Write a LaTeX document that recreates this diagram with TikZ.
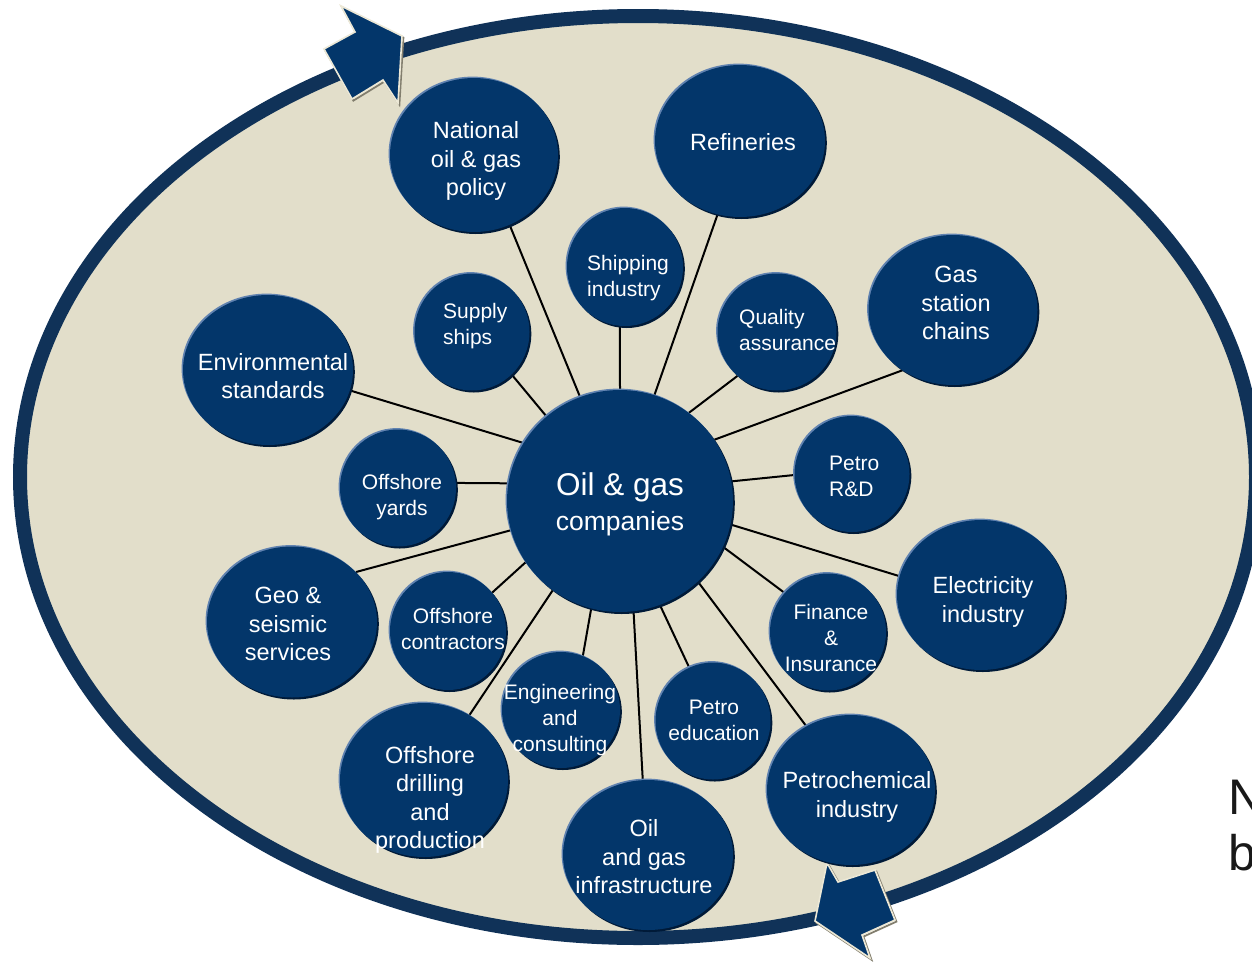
\documentclass[tikz,border=0pt]{standalone}
\usepackage{fontspec}
\setmainfont{Liberation Sans}
\usetikzlibrary{shapes.geometric}
\pgfdeclarelayer{bg}
\pgfsetlayers{bg,main}
\definecolor{navy}{RGB}{3,54,106}
\definecolor{rimdark}{RGB}{0,26,56}
\definecolor{rimlight}{RGB}{96,130,176}
\definecolor{ringcol}{RGB}{16,50,88}
\definecolor{beige}{RGB}{226,222,202}
\definecolor{arrowedge}{RGB}{236,232,214}
\definecolor{arrowshadow}{RGB}{130,126,110}
\tikzset{
  bubble/.style={ellipse, inner sep=0pt, fill=navy,
    preaction={fill=rimdark, transform canvas={xshift=1.8pt,yshift=-2pt}},
    preaction={fill=rimlight, transform canvas={xshift=-1.4pt,yshift=1.4pt}}},
  conn/.style={draw=black, line width=2pt},
  lbl/.style={text=white, align=center, inner sep=0pt, font=\fontsize{21}{26}\selectfont},
  leftlbl/.style={lbl, align=left, anchor=west},
  biglbl/.style={lbl, font=\fontsize{23.5}{28.5}\selectfont},
  ring/.style={fill=beige, draw=ringcol, line width=14pt},
  blockarrow/.style={fill=navy, draw=arrowedge, line width=1.6pt, line join=miter,
    preaction={draw=arrowshadow, line width=1.8pt, transform canvas={xshift=1.4pt,yshift=-1.6pt}}},
  sidetext/.style={anchor=base west, inner sep=0pt, text=black!90, font=\fontsize{50}{56}\selectfont}
}
\begin{document}
\begin{tikzpicture}[x=1pt,y=-1pt]
\useasboundingbox (0,0) rectangle (1252,961);
\begin{pgfonlayer}{bg}
  \fill[white] (0,0) rectangle (1252,961);
  \path[ring] (638,477) ellipse [x radius=618, y radius=461];
  \path[blockarrow] (341,6) -- (402,36) -- (398,103) -- (383,80) -- (352,99) -- (324,49) -- (355,32) -- cycle;
  \path[blockarrow] (827,863) -- (815,921) -- (870,958) -- (862,935) -- (895,920) -- (875,870) -- (838,882) -- cycle;
\end{pgfonlayer}

% bubbles
\node[bubble, minimum width=226pt, minimum height=222pt] (c0)  at (620,501) {};
\node[bubble, minimum width=168pt, minimum height=154pt] (n1)  at (474,155) {};
\node[bubble, minimum width=170pt, minimum height=152pt] (n2)  at (740,141) {};
\node[bubble, minimum width=116pt, minimum height=118pt] (n3)  at (625,267) {};
\node[bubble, minimum width=115pt, minimum height=117pt] (n4)  at (472,332) {};
\node[bubble, minimum width=119pt, minimum height=117pt] (n5)  at (777,332) {};
\node[bubble, minimum width=169pt, minimum height=150pt] (n6)  at (953,310) {};
\node[bubble, minimum width=170pt, minimum height=150pt] (n7)  at (268,370) {};
\node[bubble, minimum width=116pt, minimum height=117pt] (n8)  at (398,488) {};
\node[bubble, minimum width=115pt, minimum height=116pt] (n9)  at (852,474) {};
\node[bubble, minimum width=168pt, minimum height=150pt] (n10) at (981,595) {};
\node[bubble, minimum width=170pt, minimum height=151pt] (n11) at (292,622) {};
\node[bubble, minimum width=116pt, minimum height=118pt] (n12) at (448,631) {};
\node[bubble, minimum width=116pt, minimum height=117pt] (n13) at (828,632) {};
\node[bubble, minimum width=118pt, minimum height=116pt] (n14) at (561,710) {};
\node[bubble, minimum width=115pt, minimum height=117pt] (n15) at (713,721) {};
\node[bubble, minimum width=168pt, minimum height=154pt] (n16) at (424,780) {};
\node[bubble, minimum width=170pt, minimum height=150pt] (n17) at (648,855) {};
\node[bubble, minimum width=168pt, minimum height=150pt] (n18) at (851,790) {};

% connectors
\begin{pgfonlayer}{bg}
  \draw[conn] (c0.111) -- (n1.297);
  \draw[conn] (c0.72)  -- (n2.253);
  \draw[conn] (c0.90)  -- (n3.265);
  \draw[conn] (c0.131) -- (n4.313);
  \draw[conn] (c0.52)  -- (n5.228);
  \draw[conn] (c0.33)  -- (n6.230);
  \draw[conn] (c0.149) -- (n7.346);
  \draw[conn] (c0.171) -- (n8.5);
  \draw[conn] (c0.10)  -- (n9.181);
  \draw[conn] (c0.348) -- (n10.167);
  \draw[conn] (c0.195) -- (n11.38);
  \draw[conn] (c0.213) -- (n12.41);
  \draw[conn] (c0.336) -- (n13.138);
  \draw[conn] (c0.255) -- (n14.68);
  \draw[conn] (c0.291) -- (n15.114);
  \draw[conn] (c0.233) -- (n16.55);
  \draw[conn] (c0.277) -- (n17.94);
  \draw[conn] (c0.314) -- (n18.125);
\end{pgfonlayer}

% labels
\node[lbl, font=\fontsize{26.5}{35}\selectfont] (t0) at (620,504) {{\fontsize{31.5}{35}\selectfont Oil \& gas}\\companies};
\node[biglbl] (t1)  at (476,161) {National\\oil \& gas\\policy};
\node[biglbl] (t2)  at (743,142) {Refineries};
\node[leftlbl] (t3) at (587,278) {Shipping\\industry};
\node[leftlbl] (t4) at (443,326) {Supply\\ships};
\node[leftlbl] (t5) at (739,330) {Quality\\assurance};
\node[biglbl] (t6)  at (956,303) {Gas\\station\\chains};
\node[biglbl] (t7)  at (273,376) {Environmental\\standards};
\node[lbl]    (t8)  at (402,497) {Offshore\\yards};
\node[leftlbl] (t9) at (829,476) {Petro\\R\&D};
\node[biglbl] (t10) at (983,602) {Electricity\\industry};
\node[biglbl] (t11) at (288,624) {Geo \&\\seismic\\services};
\node[lbl]    (t12) at (453,629) {Offshore\\contractors};
\node[lbl]    (t13) at (831,638) {Finance\\\&\\Insurance};
\node[lbl]    (t14) at (560,720) {Engineering\\and\\consulting};
\node[lbl]    (t15) at (714,720) {Petro\\education};
\node[biglbl] (t16) at (430,800) {Offshore\\drilling\\and\\production};
\node[biglbl] (t17) at (644,857) {Oil\\and gas\\infrastructure};
\node[biglbl] (t18) at (857,797) {Petrochemical\\industry};

% cut-off text at right edge
\node[sidetext] (s1) at (1228,814) {N};
\node[sidetext] (s2) at (1228,870) {b};
\end{tikzpicture}
\end{document}
